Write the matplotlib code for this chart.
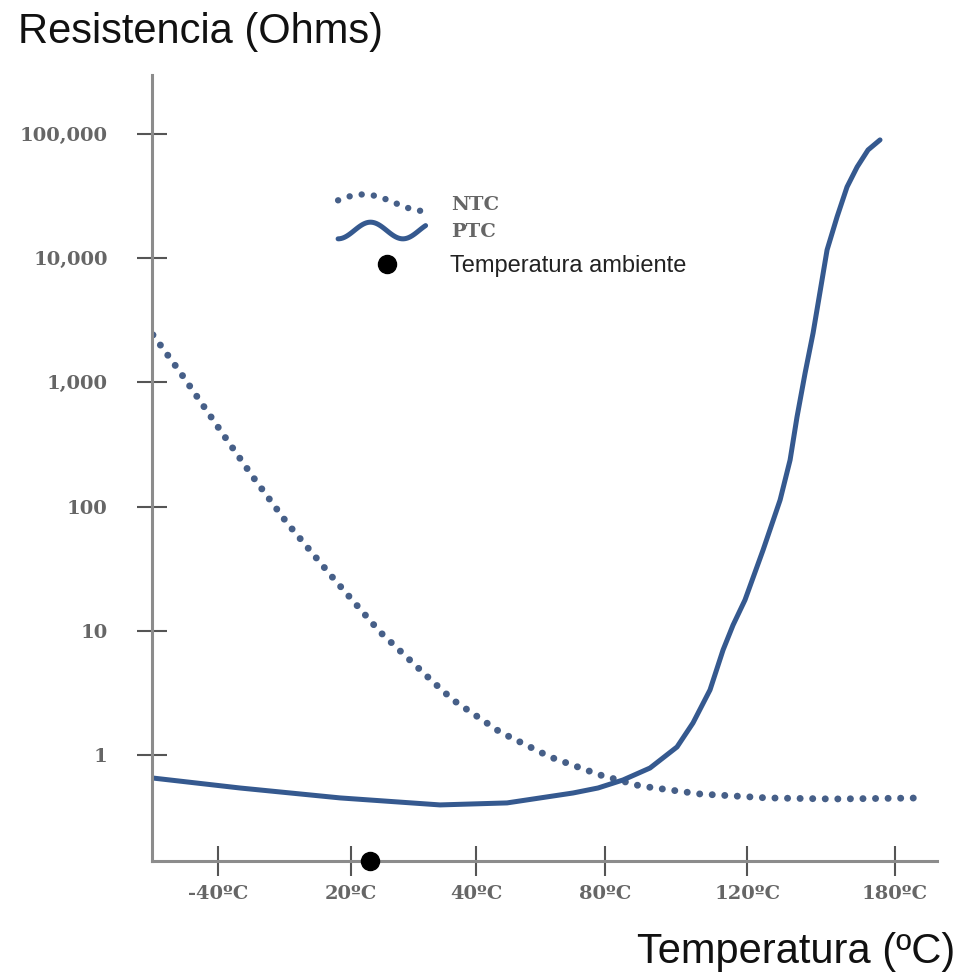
import numpy as np
import matplotlib
matplotlib.use("Agg")
import matplotlib.pyplot as plt
from matplotlib.lines import Line2D
from matplotlib.legend_handler import HandlerLine2D

# posiciones del eje x (escala esquematica, no lineal)
x_ticks = [0, 1, 1.94, 2.91, 3.98, 5.09]
x_labels = ['-40ºC', '20ºC', '40ºC', '80ºC', '120ºC', '180ºC']
y_ticks = [1, 10, 100, 1000, 10000, 100000]
y_labels = ['1', '10', '100', '1,000', '10,000', '100,000']

# NTC (punteada)
ntc_x = [-0.489, -0.286, 0.015, 0.263, 0.519, 0.865, 1.218, 1.617, 1.767, 2.120,
         2.496, 2.872, 3.173, 3.624, 4.128, 4.624, 5.316]
ntc_r = [2410, 1213, 414, 173, 73.8, 26.6, 9.78, 3.87, 2.77, 1.53,
         0.964, 0.690, 0.563, 0.485, 0.451, 0.442, 0.451]

# PTC (continua)
ptc_x = [-0.496, 0.165, 0.917, 1.669, 2.173, 2.669, 2.857, 3.045, 3.248, 3.451,
         3.571, 3.699, 3.797, 3.872, 3.962, 4.098, 4.226, 4.301, 4.353, 4.414,
         4.474, 4.526, 4.579, 4.654, 4.729, 4.805, 4.887, 4.977]
ptc_r = [0.653, 0.542, 0.451, 0.396, 0.411, 0.494, 0.542, 0.629, 0.785, 1.16,
         1.81, 3.34, 7.0, 11.1, 17.7, 44.7, 113, 237, 526, 1191,
         2500, 5346, 11640, 21470, 37410, 54200, 74300, 89500]

ambiente_x = 1.143

blue = '#35598f'
dot_blue = '#465f88'


class WavyHandler(HandlerLine2D):
    """muestra de leyenda ondulada"""
    def __init__(self, freq, phase, amp, **kw):
        super().__init__(**kw)
        self.freq, self.phase, self.amp = freq, phase, amp

    def create_artists(self, legend, orig_handle, xdescent, ydescent,
                       width, height, fontsize, trans):
        t = np.linspace(0, 1, 60)
        xs = -xdescent + width * t
        ys = -ydescent + height / 2 + self.amp * np.sin(self.freq * np.pi * t + self.phase)
        line = Line2D(xs, ys)
        self.update_prop(line, orig_handle, legend)
        line.set_transform(trans)
        return [line]


fig = plt.figure(figsize=(9.61, 9.73), dpi=100)
ax = fig.add_axes([0.1582, 0.1151, 0.8169, 0.8078])

ntc, = ax.plot(ntc_x, ntc_r, color=dot_blue, lw=5, dashes=(0.01, 1.8),
               dash_capstyle='round', solid_capstyle='round')
ptc, = ax.plot(ptc_x, ptc_r, color=blue, lw=3.6, solid_capstyle='round',
               solid_joinstyle='round')
amb, = ax.plot([ambiente_x], [0.14], 'o', color='black', ms=13, clip_on=False, zorder=5)

ax.set_yscale('log')
ax.set_xlim(-0.496, 5.406)
ax.set_ylim(0.14, 298000)

ax.set_xticks(x_ticks)
ax.set_xticklabels(x_labels)
ax.set_yticks(y_ticks)
ax.set_yticklabels(y_labels)
ax.yaxis.set_minor_locator(matplotlib.ticker.NullLocator())

for s in ['top', 'right']:
    ax.spines[s].set_visible(False)
for s in ['left', 'bottom']:
    ax.spines[s].set_color('#8c8c8c')
    ax.spines[s].set_linewidth(2.2)

ax.tick_params(axis='both', direction='inout', length=22, width=1.5, color='#555555')
ax.tick_params(axis='y', pad=21)
ax.tick_params(axis='x', pad=6.5)
for lab in ax.get_xticklabels() + ax.get_yticklabels():
    lab.set_fontfamily('DejaVu Serif')
    lab.set_fontweight('bold')
    lab.set_fontsize(14)
    lab.set_color('#666666')

# leyenda NTC / PTC con muestras onduladas
leg_ntc = Line2D([], [], color=dot_blue, lw=4.6, dashes=(0.01, 1.9), dash_capstyle='round')
leg_ptc = Line2D([], [], color=blue, lw=3.6, solid_capstyle='round')
leg1 = ax.legend([leg_ntc, leg_ptc], ['NTC', 'PTC'],
                 loc='upper left', bbox_to_anchor=(0.237, 0.8466), frameon=False,
                 borderpad=0, borderaxespad=0, handlelength=4.5, handletextpad=1.3,
                 labelspacing=0.5,
                 prop={'family': 'DejaVu Serif', 'weight': 'bold', 'size': 14},
                 handler_map={leg_ntc: WavyHandler(1.4, 0.3, 6),
                              leg_ptc: WavyHandler(2.7, -np.pi / 2, 6)})
for t in leg1.get_texts():
    t.set_color('#666666')
ax.add_artist(leg1)

# leyenda temperatura ambiente
leg_amb = Line2D([], [], color='black', marker='o', ls='none', ms=13)
leg2 = ax.legend([leg_amb], ['Temperatura ambiente'],
                 loc='center left', bbox_to_anchor=(0.2713, 0.757), frameon=False,
                 borderpad=0, borderaxespad=0, handlelength=1.86, handletextpad=1.74,
                 prop={'family': 'Liberation Sans', 'size': 17})
leg2.get_texts()[0].set_color('#222222')

fig.text(18 / 961, 1 - 43 / 973, 'Resistencia (Ohms)', fontsize=30,
         family='Liberation Sans', va='baseline', ha='left', color='#111111')
fig.text(955 / 961, 1 - 963 / 973, 'Temperatura (ºC)', fontsize=30,
         family='Liberation Sans', va='baseline', ha='right', color='#111111')

fig.savefig('out.png', dpi=100)
